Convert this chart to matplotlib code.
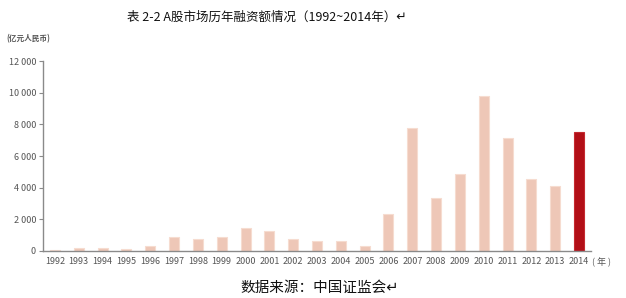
import matplotlib
matplotlib.use("Agg")
import matplotlib.pyplot as plt

plt.rcParams['font.family'] = ['Noto Sans CJK SC', 'DejaVu Sans']

years = ['1992', '1993', '1994', '1995', '1996', '1997', '1998', '1999', '2000', '2001',
         '2002', '2003', '2004', '2005', '2006', '2007', '2008', '2009', '2010', '2011',
         '2012', '2013', '2014']
values = [60, 190, 190, 110, 300, 860, 770, 900, 1480, 1250,
          740, 650, 650, 300, 2350, 7800, 3330, 4850, 9800, 7150,
          4560, 4130, 7500]
yticks = [0, 2000, 4000, 6000, 8000, 10000, 12000]
ytick_labels = ['0', '2 000', '4 000', '6 000', '8 000', '10 000', '12 000']

light = '#EEC7B7'
red = '#B20F17'
colors = [light] * (len(years) - 1) + [red]
edges = ['#F6DCD0'] * (len(years) - 1) + ['#C42A30']

fig = plt.figure(figsize=(6.26, 2.98), dpi=100)
ax = fig.add_axes([43/626, 47/298, (591-43)/626, (251-61)/298])
x = list(range(len(years)))
ax.bar(x, values, width=0.42, color=colors, edgecolor=edges, linewidth=0.8)
ax.set_xlim(-0.5, 22.5)
ax.set_ylim(0, 12000)
ax.set_yticks(yticks)
ax.set_yticklabels(ytick_labels)
ax.set_xticks(x)
ax.set_xticklabels(years)
for s in ['top', 'right']:
    ax.spines[s].set_visible(False)
for s in ['left', 'bottom']:
    ax.spines[s].set_color('#8a8a8a')
    ax.spines[s].set_linewidth(1.0)
ax.tick_params(axis='y', length=3, color='#8a8a8a', labelsize=6.5, labelcolor='#555555', pad=2)
ax.tick_params(axis='x', length=0, labelsize=6.5, labelcolor='#555555', pad=4)

fig.text(267/626, 1 - 17/298, '表 2-2 A股市场历年融资额情况（1992~2014年）↵', ha='center', va='center',
         fontsize=9, color='#111111')
fig.text(6/626, 1 - 39/298, '(亿元人民币)', ha='left', va='center', fontsize=5.5,
         color='#555555', fontweight='bold')
fig.text(592/626, 1 - 262/298, '( 年 )', ha='left', va='center', fontsize=6.5, color='#555555')
fig.text(320/626, 1 - 288/298, '数据来源：中国证监会↵', ha='center', va='center', fontsize=10.5,
         color='#111111')

fig.savefig('out.png', dpi=100)
